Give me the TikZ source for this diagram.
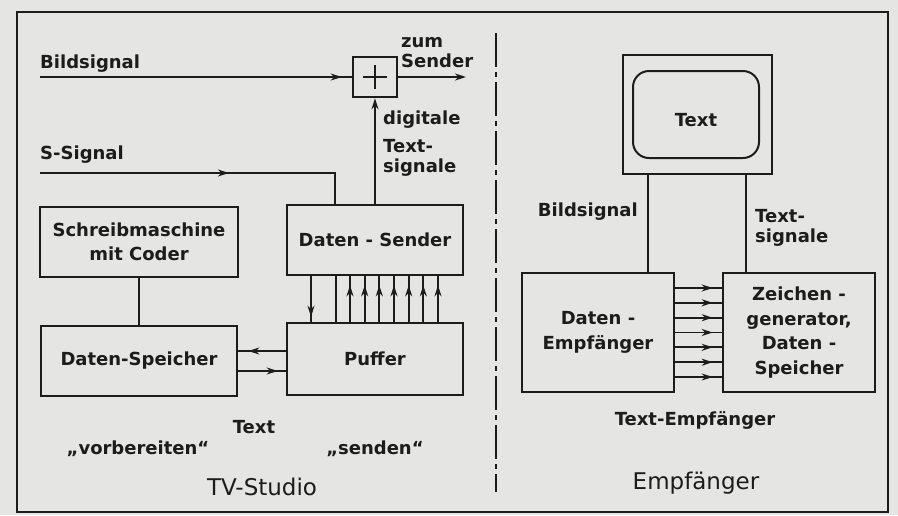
\documentclass[tikz,border=0pt]{standalone}
\usepackage{fontspec}
\setmainfont{DejaVu Sans}
\usetikzlibrary{arrows.meta,decorations.markings}
\definecolor{paper}{RGB}{229,229,227}
\definecolor{ink}{RGB}{28,28,28}
\begin{document}
\begin{tikzpicture}[
  x=1pt, y=-1pt,
  every node/.style={font=\fontsize{18}{20}\selectfont\bfseries, text=ink, inner sep=0pt},
  box/.style={draw=ink, line width=2.6pt, align=center, font=\fontsize{18}{24.5}\selectfont\bfseries},
  thinbox/.style={draw=ink, line width=2pt},
  wire/.style={draw=ink, line width=1.8pt},
  tipat/.style={postaction={decorate}, decoration={markings, mark=at position #1 with {\arrow{Stealth[length=11pt,width=7pt]}}}},
  big/.style={font=\fontsize{23}{26}\selectfont}
]
\useasboundingbox (0,0) rectangle (898,515);
\fill[paper] (0,0) rectangle (898,515);
\draw[ink, line width=2.6pt] (17,12) rectangle (888,512);
\draw[ink, line width=1.6pt, dash pattern=on 34pt off 5pt on 5pt off 5pt] (496,33) -- (496,492);

% TV-Studio
\node[box, minimum width=44pt, minimum height=40pt] (add) at (375,77) {};
\draw[ink, line width=2pt] ([xshift=-12pt]add.center) -- ([xshift=12pt]add.center)
  ([yshift=-12pt]add.center) -- ([yshift=12pt]add.center);
\node[box, minimum width=198pt, minimum height=70pt] (sm) at (139,242) {Schreibmaschine\\mit Coder};
\node[box, minimum width=176pt, minimum height=70pt] (ds) at (375,240) {Daten - Sender};
\node[box, minimum width=196pt, minimum height=70pt] (dsp) at (139,361) {Daten-Speicher};
\node[box, minimum width=176pt, minimum height=72pt] (puf) at (375,359) {Puffer};

\coordinate (bildin) at (40,77);
\coordinate (sender) at (466,77);
\coordinate (sin) at (40,173);
\draw[wire, tipat=-10pt] (bildin) -- (add.west);
\draw[wire, -{Stealth[length=11pt,width=7pt]}] (add.east) -- (sender);
\draw[wire, -{Stealth[length=11pt,width=7pt]}] (ds.north -| add) -- (add.south);
\draw[wire, tipat=0.58] (sin) -| ([xshift=-40pt]ds.north);
\draw[wire] (sm) -- (dsp);
\draw[wire, tipat=-10pt] ([yshift=8pt]puf.west) -- ([yshift=8pt]puf.west -| dsp.east);
\draw[wire, tipat=-8pt] ([yshift=-12pt]puf.west -| dsp.east) -- ([yshift=-12pt]puf.west);
\draw[wire, tipat=-5pt] ([xshift=-64pt]ds.south) -- ([xshift=-64pt]ds.south |- puf.north);
\draw[wire] ([xshift=-39pt]ds.south) -- ([xshift=-39pt]ds.south |- puf.north);
\foreach \dx in {-25,-10.3,4.3,19,33.7,48.3,63}
  \draw[wire, tipat=-9pt] ([xshift=\dx pt]puf.north) -- ([xshift=\dx pt]puf.north |- ds.south);

\node[anchor=west] (bildlbl) at (40,64) {Bildsignal};
\node[anchor=west] (slbl) at (40,155) {S-Signal};
\node[anchor=west, align=left] (zumlbl) at (401,53) {zum\\Sender};
\node[anchor=west] (diglbl) at (383,120) {digitale};
\node[anchor=west, align=left] (txtlbl) at (383,158) {Text-\\signale};
\node (txtprep) at (254,427) {Text};
\node (prep) at (138,449) {„vorbereiten“};
\node (send) at (375,449) {„senden“};
\node[big] (studio) at (262,487) {TV-Studio};

% Empfaenger
\node[thinbox, minimum width=149pt, minimum height=119pt] (tv) at (697.5,114.5) {};
\node[thinbox, rounded corners=16pt, minimum width=126pt, minimum height=87pt] (screen) at (696,114.5) {};
\node (tvtext) at (696,120) {Text};
\node[box, minimum width=152pt, minimum height=119pt] (de) at (598,332.5) {Daten -\\Empfänger};
\node[box, minimum width=152pt, minimum height=119pt] (zg) at (799,332.5) {Zeichen -\\generator,\\Daten -\\Speicher};

\draw[wire] ([xshift=-49.5pt]tv.south) -- ([xshift=-49.5pt]tv.south |- de.north);
\draw[wire] ([xshift=48.5pt]tv.south) -- ([xshift=48.5pt]tv.south |- zg.north);
\foreach \dy in {44.5,29.7,14.8,0,-14.8,-29.7,-44.5}
  \draw[wire, tipat=-9pt] ([yshift=\dy pt]de.east) -- ([yshift=\dy pt]de.east -| zg.west);

\node[anchor=east] (bildlbl2) at (638,212) {Bildsignal};
\node[anchor=west, align=left] (txtlbl2) at (755,228) {Text-\\signale};
\node (txtemp) at (695,420) {Text-Empfänger};
\node[big] (empf) at (696,483) {Empfänger};
\end{tikzpicture}
\end{document}
